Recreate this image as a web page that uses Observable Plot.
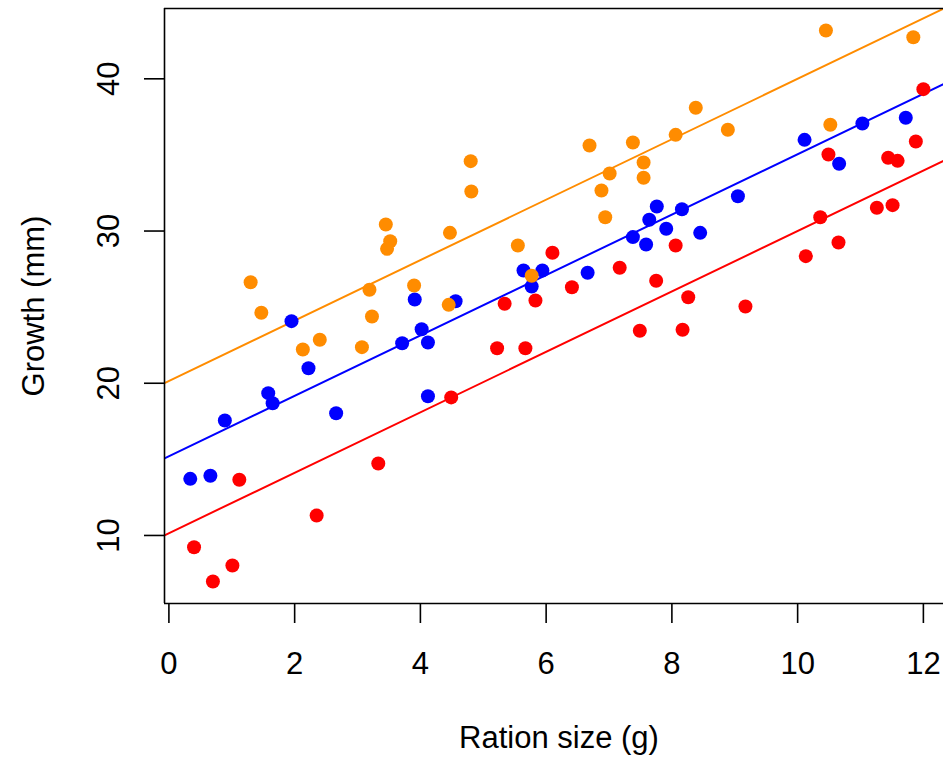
<!DOCTYPE html>
<html>
<head>
<meta charset="utf-8">
<script src="https://cdn.jsdelivr.net/npm/d3@7"></script>
<script src="https://cdn.jsdelivr.net/npm/@observablehq/plot@0.6"></script>
<style>
  html, body { margin: 0; padding: 0; background: #ffffff; overflow: hidden; }
</style>
</head>
<body>
<div id="chart"></div>
<script>
// ---- Data ----
const groupNames = ["Group A", "Group B", "Group C"];
const groupColors = ["#FF0000", "#0000FF", "#FF8C00"];

const redX = [0.40, 0.70, 1.01, 1.12, 2.35, 3.33, 4.49, 5.22, 5.34, 5.67, 5.83, 6.10, 6.41, 7.17, 7.49, 7.75, 8.06, 8.17, 8.26, 9.17, 10.13, 10.36, 10.49, 10.65, 11.26, 11.44, 11.51, 11.59, 11.88, 12.00];
const redY = [9.23, 6.98, 8.03, 13.66, 11.31, 14.73, 19.07, 22.30, 25.22, 22.30, 25.44, 28.57, 26.31, 27.59, 23.45, 26.73, 29.05, 23.51, 25.65, 25.04, 28.35, 30.91, 35.03, 29.25, 31.53, 34.81, 31.70, 34.61, 35.88, 39.32];

const blueX = [0.34, 0.66, 0.89, 1.58, 1.65, 1.95, 2.22, 2.66, 3.71, 3.91, 4.02, 4.12, 4.12, 4.56, 5.64, 5.94, 5.77, 6.66, 7.38, 7.59, 7.64, 7.76, 7.91, 8.16, 8.45, 9.05, 10.11, 10.66, 11.03, 11.72];
const blueY = [13.72, 13.92, 17.55, 19.35, 18.69, 24.08, 20.99, 18.03, 22.63, 25.50, 23.55, 22.68, 19.15, 25.39, 27.41, 27.41, 26.36, 27.26, 29.60, 29.12, 30.74, 31.61, 30.15, 31.43, 29.88, 32.29, 35.99, 34.42, 37.06, 37.44];

const orangeX = [1.30, 1.47, 2.13, 2.40, 3.07, 3.23, 3.19, 3.45, 3.52, 3.47, 3.90, 4.45, 4.47, 4.80, 4.81, 5.55, 5.77, 6.69, 6.88, 6.94, 7.01, 7.38, 7.55, 7.55, 8.06, 8.38, 8.89, 10.45, 10.52, 11.84];
const orangeY = [26.64, 24.63, 22.22, 22.86, 22.37, 24.39, 26.14, 30.43, 29.33, 28.83, 26.42, 25.15, 29.88, 34.59, 32.60, 29.05, 27.06, 35.62, 32.66, 30.91, 33.78, 35.82, 34.50, 33.50, 36.32, 38.10, 36.65, 43.17, 36.98, 42.73];

// fitted parallel lines (intercept, common slope)
const intercepts = [10.15, 15.2, 20.15];
const slope = 1.985;

const xTicks = [0, 2, 4, 6, 8, 10, 12];
const yTicks = [10, 20, 30, 40];
const xLabel = "Ration size (g)";
const yLabel = "Growth (mm)";

const xDomain = [-0.07, 12.32];
const yDomain = [5.53, 44.62];

// ---- Build tables ----
const xs = [redX, blueX, orangeX];
const ys = [redY, blueY, orangeY];
const points = [];
groupNames.forEach((g, i) => {
  xs[i].forEach((x, j) => points.push({group: g, x, y: ys[i][j]}));
});
const lines = [];
groupNames.forEach((g, i) => {
  xDomain.forEach(x => lines.push({group: g, x, y: intercepts[i] + slope * x}));
});

const font = "'Liberation Sans', Arial, Helvetica, sans-serif";

const chart = Plot.plot({
  width: 943,
  height: 761,
  marginLeft: 164,
  marginRight: 0,
  marginTop: 8,
  marginBottom: 158,
  style: {fontFamily: font, fontSize: "31px", background: "#ffffff", color: "#000000", overflow: "visible"},
  x: {domain: xDomain, axis: null},
  y: {domain: yDomain, axis: null},
  color: {domain: groupNames, range: groupColors},
  marks: [
    // fitted lines
    Plot.line(lines, {x: "x", y: "y", z: "group", stroke: "group", strokeWidth: 2, clip: true}),
    // points
    Plot.dot(points, {x: "x", y: "y", fill: "group", r: 7, stroke: null}),
    // box (left, top, bottom)
    Plot.ruleX([xDomain[0]], {stroke: "#000", strokeWidth: 1.6}),
    Plot.ruleY([yDomain[1]], {stroke: "#000", strokeWidth: 1.6}),
    Plot.ruleY([yDomain[0]], {stroke: "#000", strokeWidth: 1.6}),
    // axes
    Plot.axisX(xTicks, {tickSize: 20, tickPadding: 28, strokeWidth: 1.6, label: null, fontSize: 31, tickFormat: d => String(d)}),
    Plot.axisY(yTicks, {tickSize: 20, tickPadding: 26, tickRotate: -90, strokeWidth: 1.6, label: null, fontSize: 31, tickFormat: d => String(d)}),
    // axis titles
    Plot.text([xLabel], {text: d => d, frameAnchor: "bottom", dy: 144, dx: 5, lineAnchor: "bottom", textAnchor: "middle", fontSize: 31}),
    Plot.text([yLabel], {text: d => d, frameAnchor: "left", dx: -121, rotate: -90, lineAnchor: "bottom", textAnchor: "middle", fontSize: 31})
  ]
});
document.getElementById("chart").appendChild(chart);
</script>
</body>
</html>
